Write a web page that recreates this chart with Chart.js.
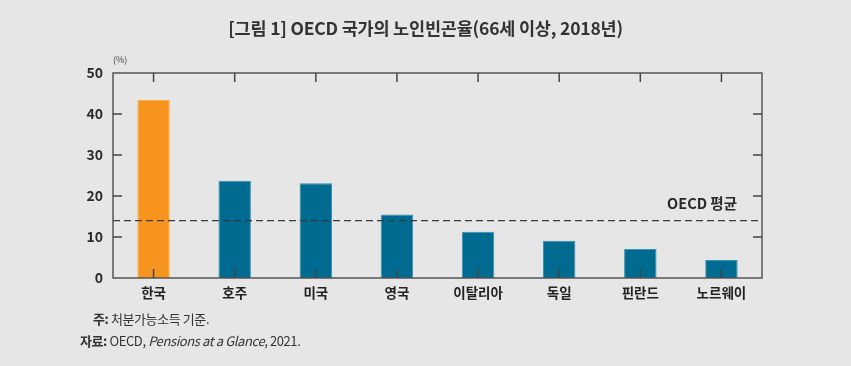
<!DOCTYPE html>
<html><head><meta charset="utf-8">
<script src="https://cdn.jsdelivr.net/npm/chart.js@4/dist/chart.umd.min.js"></script>
<style>
html,body{margin:0;padding:0;background:#E6E6E6;}
#wrap{position:relative;width:851px;height:366px;overflow:hidden;background:#E6E6E6;font-family:"Noto Sans CJK KR","Noto Sans",sans-serif;}
#c{position:absolute;left:0;top:0;}
.t{position:absolute;white-space:nowrap;color:#2a2a2a;}
#title{left:0;width:851px;top:15px;text-align:center;font-size:17.5px;font-weight:700;letter-spacing:-0.2px;color:#333;}
#unit{left:113px;top:53px;font-size:9px;color:#444;}
#n1{left:93px;top:309px;font-size:13px;letter-spacing:-0.4px;color:#333;}
#n2{left:80px;top:331px;font-size:13px;letter-spacing:-0.4px;color:#333;}
b{font-weight:700;}
</style></head>
<body>
<div id="wrap">
<canvas id="c" width="851" height="366"></canvas>
<div class="t" id="title">[그림 1] OECD 국가의 노인빈곤율(66세 이상, 2018년)</div>
<div class="t" id="unit">(%)</div>
<div class="t" id="n1"><b>주:</b> 처분가능소득 기준.</div>
<div class="t" id="n2"><b>자료:</b> OECD, <i>Pensions at a Glance</i>, 2021.</div>
</div>
<script>
const categories = ['한국','호주','미국','영국','이탈리아','독일','핀란드','노르웨이'];
const povertyRate = [43.4, 23.7, 23.1, 15.5, 11.3, 9.1, 7.1, 4.4];
const oecdAverage = 14.0;
const oecdLabel = 'OECD 평균';
const yTicks = [0,10,20,30,40,50];

const barColors = categories.map((c,i)=> i===0 ? '#F7941D' : '#006B91');
const barBorders = categories.map((c,i)=> i===0 ? '#FBB04F' : '#3C8FB0');

const frame = {
  id:'frame',
  afterDatasetsDraw(chart){
    const {ctx, chartArea:a, scales:{x,y}} = chart;
    ctx.save();
    const yl = y.getPixelForValue(oecdAverage);
    ctx.strokeStyle = '#3a3a3a';
    ctx.lineWidth = 1.3;
    ctx.setLineDash([7,4]);
    ctx.beginPath(); ctx.moveTo(a.left, yl); ctx.lineTo(a.right, yl); ctx.stroke();
    ctx.setLineDash([]);
    ctx.fillStyle = '#2a2a2a';
    ctx.font = '700 14.5px "Noto Sans CJK KR", sans-serif';
    ctx.textAlign = 'right'; ctx.textBaseline = 'middle';
    ctx.fillText(oecdLabel, a.right - 25, yl - 17);
    ctx.strokeStyle = '#555';
    ctx.lineWidth = 1.5;
    ctx.strokeRect(a.left, a.top, a.right - a.left, a.bottom - a.top);
    ctx.strokeStyle = '#444';
    ctx.beginPath();
    yTicks.forEach(v=>{
      if (v===0 || v===50) return;
      const py = y.getPixelForValue(v);
      ctx.moveTo(a.left, py); ctx.lineTo(a.left + 9, py);
      ctx.moveTo(a.right, py); ctx.lineTo(a.right - 9, py);
    });
    categories.forEach((c,i)=>{
      const px = x.getPixelForValue(i);
      ctx.moveTo(px, a.top); ctx.lineTo(px, a.top + 9);
      ctx.moveTo(px, a.bottom); ctx.lineTo(px, a.bottom - 9);
    });
    ctx.stroke();
    ctx.restore();
  }
};

new Chart(document.getElementById('c'), {
  type:'bar',
  data:{ labels: categories, datasets:[{
    data: povertyRate,
    backgroundColor: barColors,
    borderColor: barBorders,
    borderWidth: 1,
    barPercentage: 0.4,
    categoryPercentage: 1.0
  }]},
  options:{
    responsive:false,
    animation:false,
    devicePixelRatio:1,
    layout:{ padding:{ left:0, right:89, top:73, bottom:0 } },
    plugins:{ legend:{display:false}, tooltip:{enabled:false}, title:{display:false} },
    scales:{
      x:{
        grid:{ display:false, drawTicks:false },
        border:{ display:false },
        ticks:{ color:'#222', padding:7, font:{ family:'"Noto Sans CJK KR", sans-serif', size:13.5, weight:'700' } },
        afterFit(s){ s.height = 88; }
      },
      y:{
        min:0, max:50,
        afterBuildTicks(s){ s.ticks = yTicks.map(v=>({value:v})); },
        grid:{ display:false, drawTicks:false },
        border:{ display:false },
        ticks:{ color:'#2a2a2a', padding:10, font:{ family:'"Noto Sans CJK KR", sans-serif', size:14, weight:'700' } },
        afterFit(s){ s.width = 113; }
      }
    }
  },
  plugins:[frame]
});
</script>
</body></html>
